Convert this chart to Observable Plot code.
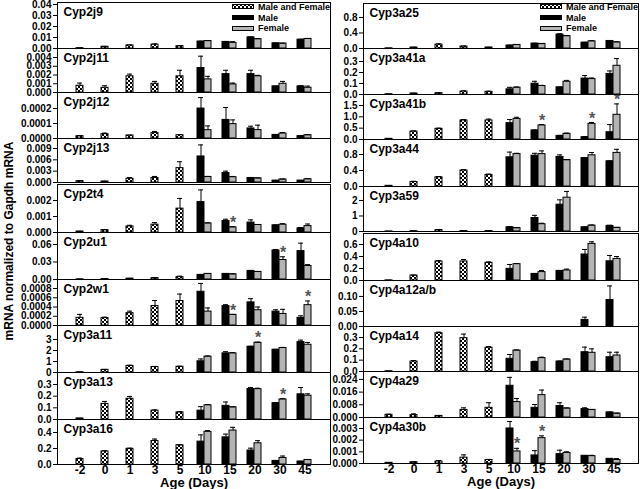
<!DOCTYPE html>
<html><head><meta charset="utf-8">
<script src="https://cdn.jsdelivr.net/npm/d3@7"></script>
<script src="https://cdn.jsdelivr.net/npm/@observablehq/plot@0.6"></script>
<style>
body{margin:0;background:#fff;}
#chart{position:relative;width:640px;height:489px;font-family:"Liberation Sans",Arial,sans-serif;font-weight:bold;color:#000;overflow:hidden;}
#chart svg.panel{position:absolute;overflow:visible;}
#chart [aria-label^="x-axis"] text{font-size:12px;}
#chart [aria-label="x-axis tick label"] text{font-size:12px;}
#chart [aria-label="x-axis label"] text{font-size:13px;}
.legend{position:absolute;font-size:9px;line-height:10.7px;}
.legend .row{display:flex;align-items:center;height:10.7px;white-space:nowrap;}
.legend svg{margin-right:4px;}
#ytitle{position:absolute;left:9px;top:241px;transform:translate(-50%,-50%) rotate(-90deg);white-space:nowrap;font-size:12px;}
</style>
</head><body>
<svg width="0" height="0" style="position:absolute"><defs>
<pattern id="chk" width="4" height="4" patternUnits="userSpaceOnUse">
<rect width="4" height="4" fill="white"/><rect width="2" height="2" fill="black"/><rect x="2" y="2" width="2" height="2" fill="black"/>
</pattern></defs></svg>
<div id="chart"></div>
<script>
const ages = ["-2","0","1","3","5","10","15","20","30","45"];
const pooledAges = ages.slice(0, 5);
const sexAges = ages.slice(5);
const legendLabels = ["Male and Female", "Male", "Female"];
const yTitle = "mRNA normalized to Gapdh mRNA";
const xTitle = "Age (Days)";

// each entry: [mean, mean + error]
const Cyp2j9 = {name:"Cyp2j9", yMax:0.0418, ticks:[0,0.01,0.02,0.03,0.04], digits:2,
  both:[[0.0003,0.0004],[0.0016,0.0019],[0.0028,0.0032],[0.0036,0.0041],[0.0021,0.0024]],
  male:[[0.0063,0.0066],[0.006,0.0063],[0.0101,0.0105],[0.0047,0.0049],[0.008,0.0084]],
  female:[[0.0068,0.0071],[0.0051,0.0062],[0.0085,0.0089],[0.0045,0.0048],[0.0087,0.0091]], stars:[]};
const Cyp2j11 = {name:"Cyp2j11", yMax:0.00503, ticks:[0,0.001,0.002,0.003,0.004], digits:3,
  both:[[0.00077,0.00108],[0.00054,0.00077],[0.00185,0.0021],[0.001,0.00127],[0.00185,0.00254]],
  male:[[0.0028,0.00415],[0.0021,0.00254],[0.0021,0.00254],[0.0007,0.00072],[0.0007,0.00077]],
  female:[[0.0015,0.00185],[0.00092,0.00108],[0.00185,0.00196],[0.001,0.00127],[0.00054,0.00073]], stars:[]};
const Cyp2j12 = {name:"Cyp2j12", yMax:0.000307, ticks:[0,0.0001,0.0002], digits:4,
  both:[[0.0000155,0.000018],[0.000029,0.000036],[0.00002,0.000022],[0.000036,0.000047],[0.000022,0.000026]],
  male:[[0.0002,0.000273],[0.000124,0.000207],[0.000067,0.000082],[0.000024,0.000026],[0.000016,0.000017]],
  female:[[0.0000555,0.000084],[0.000096,0.000124],[0.000056,0.000089],[0.000033,0.00004],[0.000022,0.000025]], stars:[]};
const Cyp2j13 = {name:"Cyp2j13", yMax:0.01165, ticks:[0,0.003,0.006,0.009], digits:3,
  both:[[0.00035,0.00045],[0.00026,0.00032],[0.001,0.0013],[0.0012,0.0016],[0.0038,0.0055]],
  male:[[0.0069,0.00995],[0.0025,0.003],[0.0012,0.0013],[0.0005,0.00055],[0.0005,0.00055]],
  female:[[0.00147,0.0016],[0.0014,0.0016],[0.0011,0.0012],[0.0008,0.0009],[0.00086,0.001]], stars:[]};
const Cyp2t4 = {name:"Cyp2t4", yMax:0.003, ticks:[0,0.001,0.002], digits:3,
  both:[[0.00006,0.00007],[0.00015,0.00017],[0.00038,0.00045],[0.00049,0.00062],[0.00149,0.00213]],
  male:[[0.0019,0.00266],[0.00072,0.00083],[0.00062,0.00079],[0.00045,0.00047],[0.00026,0.00031]],
  female:[[0.00057,0.0006],[0.00032,0.00036],[0.00047,0.0005],[0.00049,0.00055],[0.0004,0.00053]], stars:["15"]};
const Cyp2u1 = {name:"Cyp2u1", yMax:0.0806, ticks:[0,0.03,0.06], digits:2,
  both:[[0.0003,0.0004],[0.0008,0.001],[0.0015,0.0018],[0.0023,0.003],[0.004,0.0057]],
  male:[[0.0079,0.0085],[0.0096,0.0102],[0.0147,0.0155],[0.0498,0.0515],[0.0487,0.0623]],
  female:[[0.0096,0.0102],[0.009,0.0095],[0.013,0.0137],[0.0334,0.039],[0.0232,0.0255]], stars:["30"]};
const Cyp2w1 = {name:"Cyp2w1", yMax:0.000995, ticks:[0,0.0002,0.0004,0.0006,0.0008], digits:4,
  both:[[0.000166,0.00024],[0.00016,0.00018],[0.000267,0.00031],[0.00042,0.00054],[0.00053,0.00068]],
  male:[[0.00073,0.00091],[0.00042,0.00045],[0.0005,0.00058],[0.0003,0.00034],[0.000166,0.00021]],
  female:[[0.0003,0.00038],[0.00023,0.00024],[0.00033,0.0004],[0.00025,0.00035],[0.00044,0.00053]], stars:["15","45"]};
const Cyp3a11 = {name:"Cyp3a11", yMax:4.27, ticks:[0,1,2,3], digits:0,
  both:[[0.02,0.03],[0.24,0.28],[0.6,0.66],[0.5,0.55],[0.52,0.57]],
  male:[[1.02,1.23],[1.74,1.89],[2.34,2.38],[2.07,2.1],[2.76,2.94]],
  female:[[1.44,1.5],[1.74,1.8],[2.7,2.76],[2.22,2.28],[2.52,2.73]], stars:["20"]};
const Cyp3a13 = {name:"Cyp3a13", yMax:0.403, ticks:[0,0.1,0.2,0.3], digits:1,
  both:[[0.009,0.01],[0.134,0.155],[0.178,0.198],[0.076,0.082],[0.061,0.067]],
  male:[[0.076,0.11],[0.117,0.15],[0.262,0.274],[0.14,0.143],[0.216,0.274]],
  female:[[0.122,0.128],[0.105,0.108],[0.26,0.268],[0.172,0.178],[0.204,0.22]], stars:["30"]};
const Cyp3a16 = {name:"Cyp3a16", yMax:0.5625, ticks:[0,0.2,0.4], digits:1,
  both:[[0.069,0.08],[0.163,0.172],[0.196,0.204],[0.294,0.318],[0.24,0.246]],
  male:[[0.286,0.37],[0.339,0.38],[0.175,0.204],[0.045,0.047],[0.037,0.04]],
  female:[[0.408,0.424],[0.424,0.465],[0.265,0.298],[0.082,0.106],[0.057,0.062]], stars:[]};

const Cyp3a25 = {name:"Cyp3a25", yMax:1.16, ticks:[0,0.4,0.8], digits:1,
  both:[[0.004,0.005],[0.025,0.03],[0.1,0.12],[0.05,0.065],[0.025,0.03]],
  male:[[0.076,0.085],[0.126,0.135],[0.36,0.38],[0.15,0.16],[0.194,0.2]],
  female:[[0.093,0.1],[0.118,0.125],[0.32,0.33],[0.185,0.2],[0.16,0.17]], stars:[]};
const Cyp3a41a = {name:"Cyp3a41a", yMax:0.418, ticks:[0,0.1,0.2,0.3], digits:1,
  both:[[0.002,0.003],[0.009,0.011],[0.012,0.015],[0.027,0.033],[0.024,0.03]],
  male:[[0.047,0.065],[0.098,0.12],[0.065,0.067],[0.145,0.172],[0.187,0.214]],
  female:[[0.062,0.068],[0.077,0.083],[0.116,0.128],[0.14,0.15],[0.261,0.326]], stars:[]};
const Cyp3a41b = {name:"Cyp3a41b", yMax:1.985, ticks:[0,0.5,1,1.5], digits:1,
  both:[[0.03,0.04],[0.35,0.38],[0.47,0.5],[0.84,0.88],[0.84,0.9]],
  male:[[0.72,0.88],[0.4,0.42],[0.16,0.18],[0.1,0.13],[0.32,0.66]],
  female:[[0.91,0.98],[0.62,0.66],[0.25,0.28],[0.69,0.75],[1.09,1.57]], stars:["15","30","45"]};
const Cyp3a44 = {name:"Cyp3a44", yMax:1.175, ticks:[0,0.4,0.8], digits:1,
  both:[[0.017,0.02],[0.11,0.13],[0.23,0.25],[0.4,0.42],[0.29,0.31]],
  male:[[0.73,0.86],[0.77,0.83],[0.74,0.79],[0.71,0.72],[0.63,0.64]],
  female:[[0.81,0.83],[0.81,0.89],[0.66,0.67],[0.78,0.85],[0.84,0.93]], stars:[]};
const Cyp3a59 = {name:"Cyp3a59", yMax:2.9, ticks:[0,1,2], digits:0,
  both:[[0.005,0.006],[0.02,0.03],[0.09,0.13],[0.03,0.04],[0.03,0.04]],
  male:[[0.27,0.31],[0.87,1.04],[1.73,2.04],[0.27,0.29],[0.36,0.4]],
  female:[[0.22,0.24],[0.47,0.53],[2.18,2.58],[0.38,0.42],[0.24,0.26]], stars:[]};
const Cyp4a10 = {name:"Cyp4a10", yMax:0.783, ticks:[0,0.2,0.4,0.6], digits:1,
  both:[[0.002,0.003],[0.083,0.09],[0.317,0.33],[0.317,0.35],[0.294,0.31]],
  male:[[0.194,0.267],[0.11,0.115],[0.16,0.165],[0.433,0.517],[0.32,0.417]],
  female:[[0.272,0.283],[0.14,0.167],[0.167,0.19],[0.61,0.645],[0.36,0.4]], stars:[]};
const Cyp4a12 = {name:"Cyp4a12a/b", yMax:0.153, ticks:[0,0.05,0.1], digits:2,
  both:[[0,0],[0,0],[0,0],[0,0],[0,0]],
  male:[[0,0],[0,0],[0,0],[0.022,0.031],[0.088,0.135]],
  female:[[0,0],[0,0],[0,0],[0,0],[0,0]], stars:[]};
const Cyp4a14 = {name:"Cyp4a14", yMax:0.397, ticks:[0,0.1,0.2,0.3], digits:1,
  both:[[0.002,0.003],[0.088,0.097],[0.338,0.347],[0.294,0.33],[0.21,0.22]],
  male:[[0.112,0.15],[0.082,0.09],[0.088,0.092],[0.17,0.215],[0.126,0.17]],
  female:[[0.185,0.19],[0.118,0.126],[0.106,0.11],[0.165,0.2],[0.141,0.17]], stars:[]};
const Cyp4a29 = {name:"Cyp4a29", yMax:0.029, ticks:[0,0.008,0.016,0.024], digits:3,
  both:[[0.0017,0.0021],[0.0015,0.0023],[0.001,0.0012],[0.0048,0.0061],[0.0061,0.0093]],
  male:[[0.02,0.0253],[0.0061,0.0082],[0.0072,0.0093],[0.0053,0.0061],[0.0032,0.0034]],
  female:[[0.0097,0.012],[0.0141,0.0173],[0.0057,0.006],[0.0048,0.005],[0.0025,0.0027]], stars:[]};
const Cyp4a30b = {name:"Cyp4a30b", yMax:0.00394, ticks:[0,0.001,0.002,0.003], digits:3,
  both:[[0.00006,0.00007],[0.00011,0.00013],[0.00017,0.00025],[0.0005,0.00074],[0.0003,0.00035]],
  male:[[0.003,0.0036],[0.00069,0.0011],[0.0008,0.00114],[0.00066,0.00068],[0.0004,0.00042]],
  female:[[0.00103,0.0013],[0.00217,0.00237],[0.00091,0.001],[0.00063,0.0007],[0.0003,0.00042]], stars:["10","15"]};

const leftGenes = [Cyp2j9, Cyp2j11, Cyp2j12, Cyp2j13, Cyp2t4, Cyp2u1, Cyp2w1, Cyp3a11, Cyp3a13, Cyp3a16];
const rightGenes = [Cyp3a25, Cyp3a41a, Cyp3a41b, Cyp3a44, Cyp3a59, Cyp4a10, Cyp4a12, Cyp4a14, Cyp4a29, Cyp4a30b];

// layout (pixels): panel top / baseline for each row
const leftRows = [[2,48],[48,92],[92,138],[138,182],[184,232],[232,279],[279,325],[325,372],[372,419],[419,464]];
const rightRows = [[3,48],[48,94],[94,139],[139,186],[186,231],[233,280],[280,326],[326,371],[371,417],[417,463]];

const chart = document.getElementById("chart");
const FEMALE = "#b4b4b4";

function makePanel(g, col, top, base, isBottom) {
  const left = col === 0 ? 0 : 306;
  const width = col === 0 ? 332 : 334;
  const xRange = col === 0 ? [66, 318] : [68, 321];
  const h = base - top;
  const mb = isBottom ? 24 : 0;
  const both = g.both.map(([v, t], i) => ({age: pooledAges[i], v, top: t}));
  const male = g.male.map(([v, t], i) => ({age: sexAges[i], v, top: t}));
  const female = g.female.map(([v, t], i) => ({age: sexAges[i], v, top: t}));
  const stars = female.filter(d => g.stars.includes(d.age));
  const svg = Plot.plot({
    width, height: h + mb,
    marginLeft: 57, marginRight: 2, marginTop: 0, marginBottom: mb,
    style: {background: "transparent", overflow: "visible", fontFamily: "'Liberation Sans', Arial, sans-serif", fontWeight: "bold", fontSize: "10px", color: "black"},
    x: {type: "band", domain: ages, range: xRange, round: true, padding: 0,
        axis: isBottom ? "bottom" : null, tickSize: 0, tickPadding: 1,
        label: isBottom ? xTitle : null, labelAnchor: "center", labelOffset: 22},
    y: {domain: [0, g.yMax], ticks: g.ticks, tickFormat: d3.format(`.${g.digits}f`), tickSize: 4, tickPadding: 2, label: null},
    marks: [
      Plot.barY(both, {x: "age", y: "v", fill: "url(#chk)", stroke: "black", insetLeft: 9, insetRight: 9}),
      Plot.barY(male, {x: "age", y: "v", fill: "black", stroke: "black", insetLeft: 5, insetRight: 13}),
      Plot.barY(female, {x: "age", y: "v", fill: FEMALE, stroke: "black", insetLeft: 12, insetRight: 6}),
      Plot.ruleX(both, {x: "age", y1: "v", y2: "top", stroke: "black"}),
      Plot.ruleX(male, {x: "age", y1: "v", y2: "top", stroke: "black", dx: -4}),
      Plot.ruleX(female, {x: "age", y1: "v", y2: "top", stroke: "black", dx: 3}),
      Plot.tickY(both, {x: "age", y: "top", stroke: "black", insetLeft: 10, insetRight: 10}),
      Plot.tickY(male, {x: "age", y: "top", stroke: "black", insetLeft: 6, insetRight: 14}),
      Plot.tickY(female, {x: "age", y: "top", stroke: "black", insetLeft: 13, insetRight: 7}),
      Plot.text(stars, {x: "age", y: "top", text: () => "*", dx: 3, dy: -4, fontSize: 16, fill: "#555"}),
      Plot.text([g.name], {frameAnchor: "top-left", dx: 6, dy: 5, fontSize: 12, fill: "black"}),
      Plot.frame({stroke: "black"})
    ]
  });
  svg.classList.add("panel");
  svg.style.left = left + "px";
  svg.style.top = top + "px";
  chart.appendChild(svg);
}

leftGenes.forEach((g, i) => makePanel(g, 0, leftRows[i][0], leftRows[i][1], i === leftGenes.length - 1));
rightGenes.forEach((g, i) => makePanel(g, 1, rightRows[i][0], rightRows[i][1], i === rightGenes.length - 1));

// legends
const swatchFills = ["url(#chk)", "black", FEMALE];
function makeLegend(x, y) {
  const div = document.createElement("div");
  div.className = "legend";
  div.style.left = x + "px";
  div.style.top = y + "px";
  legendLabels.forEach((lab, i) => {
    const row = document.createElement("div");
    row.className = "row";
    row.innerHTML = `<svg width="22" height="6"><rect x="0.5" y="0.5" width="21" height="4" fill="${swatchFills[i]}" stroke="black"/></svg><span>${lab}</span>`;
    div.appendChild(row);
  });
  chart.appendChild(div);
}
makeLegend(232, 2);
makeLegend(540, 2);

const yt = document.createElement("div");
yt.id = "ytitle";
yt.textContent = yTitle;
chart.appendChild(yt);
</script>
</body></html>
